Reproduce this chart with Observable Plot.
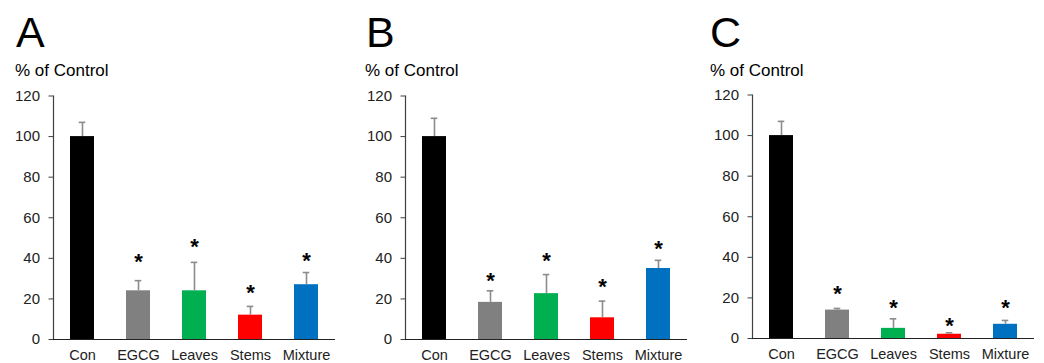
<!DOCTYPE html>
<html><head><meta charset="utf-8">
<script src="https://cdn.jsdelivr.net/npm/d3@7"></script>
<script src="https://cdn.jsdelivr.net/npm/@observablehq/plot@0.6"></script>
<style>
body{margin:0;background:#fff;font-family:"Liberation Sans",Arial,sans-serif;color:#000;}
#wrap{position:relative;width:1044px;height:363px;overflow:hidden;}
.panel{position:absolute;top:0;width:347px;height:363px;}
.letter{position:absolute;font-size:43px;line-height:43px;top:10.6px;}
.ylab{position:absolute;font-size:17px;line-height:17px;top:61.6px;white-space:nowrap;}
.chart{position:absolute;left:0;}
</style></head><body><div id="wrap"></div>
<script>
// ---- data ----
const categories = ["Con", "EGCG", "Leaves", "Stems", "Mixture"];
const colors = ["#000000", "#808080", "#00B050", "#FF0000", "#0070C0"];
const yTicks = [0, 20, 40, 60, 80, 100, 120];
const panelLetters = ["A", "B", "C"];
const yLabel = "% of Control";

const meanA = [100, 24, 24, 12, 27];
const errTopA = [107, 29, 38, 16.3, 33];
const starA = [null, 41, 48.5, 25.5, 41.5];

const meanB = [100, 18.3, 22.6, 10.7, 35];
const errTopB = [109, 24, 32, 18.9, 39];
const starB = [null, 31.6, 41.5, 28.6, 47.3];

const meanC = [100, 14, 5, 2.1, 7];
const errTopC = [107, 14.8, 9.7, 2.8, 8.9];
const starC = [null, 24.7, 18, 9, 18];

const series = [
  {mean: meanA, errTop: errTopA, star: starA},
  {mean: meanB, errTop: errTopB, star: starB},
  {mean: meanC, errTop: errTopC, star: starC}
];

// ---- layout (styles, not data) ----
const layout = [
  {left: 0,   letterX: 16, labelX: 15, top: 80},
  {left: 352, letterX: 14, labelX: 13, top: 80},
  {left: 699, letterX: 11, labelX: 11, top: 78.5}
];
const font = '"Liberation Sans", Arial, sans-serif';

function makeChart(s) {
  const rows = categories.map((c, k) => ({cat: c, mean: s.mean[k], top: s.errTop[k], star: s.star[k]}));
  return Plot.plot({
    width: 347, height: 283,
    marginLeft: 53, marginRight: 12, marginTop: 15.5, marginBottom: 24,
    style: {fontFamily: font, fontSize: "14.5px", color: "#000", background: "transparent", overflow: "visible"},
    x: {domain: categories, padding: 0, label: null},
    y: {domain: [0, 120], label: null},
    color: {domain: categories, range: colors},
    marks: [
      Plot.barY(rows, {x: "cat", y: "mean", fill: "cat", insetLeft: 16, insetRight: 16}),
      Plot.ruleX(rows, {x: "cat", y1: "mean", y2: "top", stroke: "#8c8c8c", strokeWidth: 1.6}),
      Plot.tickY(rows, {x: "cat", y: "top", stroke: "#8c8c8c", strokeWidth: 1.6, insetLeft: 24.7, insetRight: 24.7}),
      Plot.text(rows.filter(d => d.star != null), {x: "cat", y: "star", text: () => "*", fontSize: 22, fontWeight: "bold", dy: 5.5, fill: "#000"}),
      Plot.axisY({ticks: yTicks, tickSize: 4.5, tickPadding: 9, fontSize: 15, color: "#222", stroke: "#404040", label: null}),
      Plot.frame({anchor: "left", stroke: "#404040", strokeWidth: 1.2}),
      Plot.ruleY([0], {stroke: "#222", strokeWidth: 1.2}),
      Plot.axisX({tickSize: 0, tickPadding: 10, fontSize: 14.5, color: "#222", label: null})
    ]
  });
}

const wrap = document.getElementById("wrap");
series.forEach((s, i) => {
  const L = layout[i];
  const panel = document.createElement("div");
  panel.className = "panel";
  panel.style.left = L.left + "px";
  const letter = document.createElement("div");
  letter.className = "letter";
  letter.style.left = L.letterX + "px";
  letter.textContent = panelLetters[i];
  const ylab = document.createElement("div");
  ylab.className = "ylab";
  ylab.style.left = L.labelX + "px";
  ylab.textContent = yLabel;
  const holder = document.createElement("div");
  holder.className = "chart";
  holder.style.top = L.top + "px";
  holder.appendChild(makeChart(s));
  panel.appendChild(letter);
  panel.appendChild(ylab);
  panel.appendChild(holder);
  wrap.appendChild(panel);
});
</script>
</body></html>
